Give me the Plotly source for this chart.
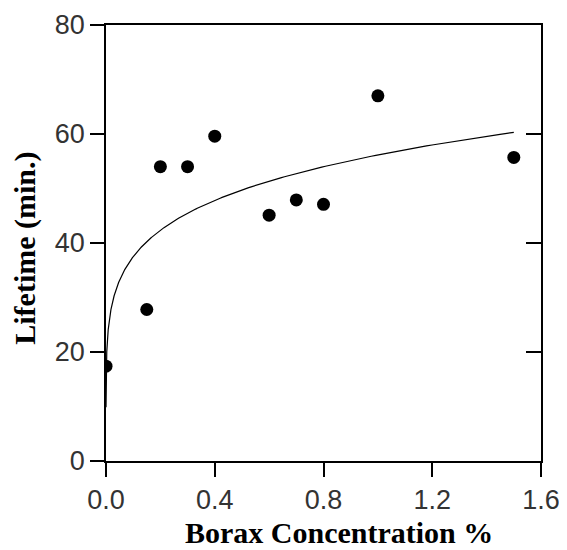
import numpy as np
import plotly.graph_objects as go

# Data
borax_conc = [0.0, 0.15, 0.2, 0.3, 0.4, 0.6, 0.7, 0.8, 1.0, 1.5]
lifetime = [17.4, 27.8, 54.0, 54.0, 59.6, 45.1, 47.9, 47.1, 67.0, 55.7]

x_ticks = [0.0, 0.4, 0.8, 1.2, 1.6]
x_tick_labels = ["0.0", "0.4", "0.8", "1.2", "1.6"]
y_ticks = [0, 20, 40, 60, 80]

# Power-law trend line (y = a * x^b) fitted to the positive-x data
xs = np.array(borax_conc)
ys = np.array(lifetime)
mask = xs > 0
b, ln_a = np.polyfit(np.log(xs[mask]), np.log(ys[mask]), 1)
a = np.exp(ln_a)
x_fit = np.geomspace(5e-5, 1.5, 600)
y_fit = a * x_fit ** b

fig = go.Figure()
fig.add_trace(go.Scatter(
    x=x_fit, y=y_fit, mode="lines",
    line=dict(color="black", width=1.2),
    hoverinfo="skip", showlegend=False,
))
fig.add_trace(go.Scatter(
    x=borax_conc, y=lifetime, mode="markers",
    marker=dict(color="black", size=13),
    showlegend=False,
))
# invisible trace for right-hand axis
fig.add_trace(go.Scatter(x=[0], y=[0], yaxis="y2", mode="markers",
                         marker=dict(opacity=0), hoverinfo="skip", showlegend=False))

tick_font = dict(family="Liberation Sans, Arial, sans-serif", size=27, color="#333")
title_font = dict(family="Liberation Serif, Times New Roman, serif", size=30, color="black")

# page body has an 8px default margin, so the figure is sized to fit after it
fig.update_layout(
    width=559, height=542,
    margin=dict(l=98, r=26, t=17, b=89),
    paper_bgcolor="white", plot_bgcolor="white",
    xaxis=dict(
        range=[0, 1.6], tickvals=x_ticks, ticktext=x_tick_labels,
        showgrid=False, zeroline=False, automargin=False,
        showline=True, linecolor="black", linewidth=1.5, mirror=True,
        ticks="outside", ticklen=14, tickwidth=1.5, tickcolor="black",
        tickfont=tick_font,
    ),
    yaxis=dict(
        range=[0, 80], tickvals=y_ticks,
        showgrid=False, zeroline=False, automargin=False,
        showline=True, linecolor="black", linewidth=1.5,
        ticks="outside", ticklen=14, tickwidth=1.5, tickcolor="black",
        tickfont=tick_font,
    ),
    yaxis2=dict(
        range=[0, 80], tickvals=y_ticks, overlaying="y", side="right",
        showgrid=False, zeroline=False, showticklabels=False, automargin=False,
        showline=True, linecolor="black", linewidth=1.5,
        ticks="inside", ticklen=15, tickwidth=1.5, tickcolor="black",
    ),
    annotations=[
        dict(text="<b>Borax Concentration %</b>", xref="paper", yref="paper",
             x=0.536, y=-0.165, xanchor="center", yanchor="middle",
             showarrow=False, font=title_font),
        dict(text="<b>Lifetime (min.)</b>", xref="paper", yref="paper",
             x=-0.186, y=0.487, xanchor="center", yanchor="middle",
             textangle=-90, showarrow=False, font=title_font),
    ],
)

fig.write_html("out.html")
